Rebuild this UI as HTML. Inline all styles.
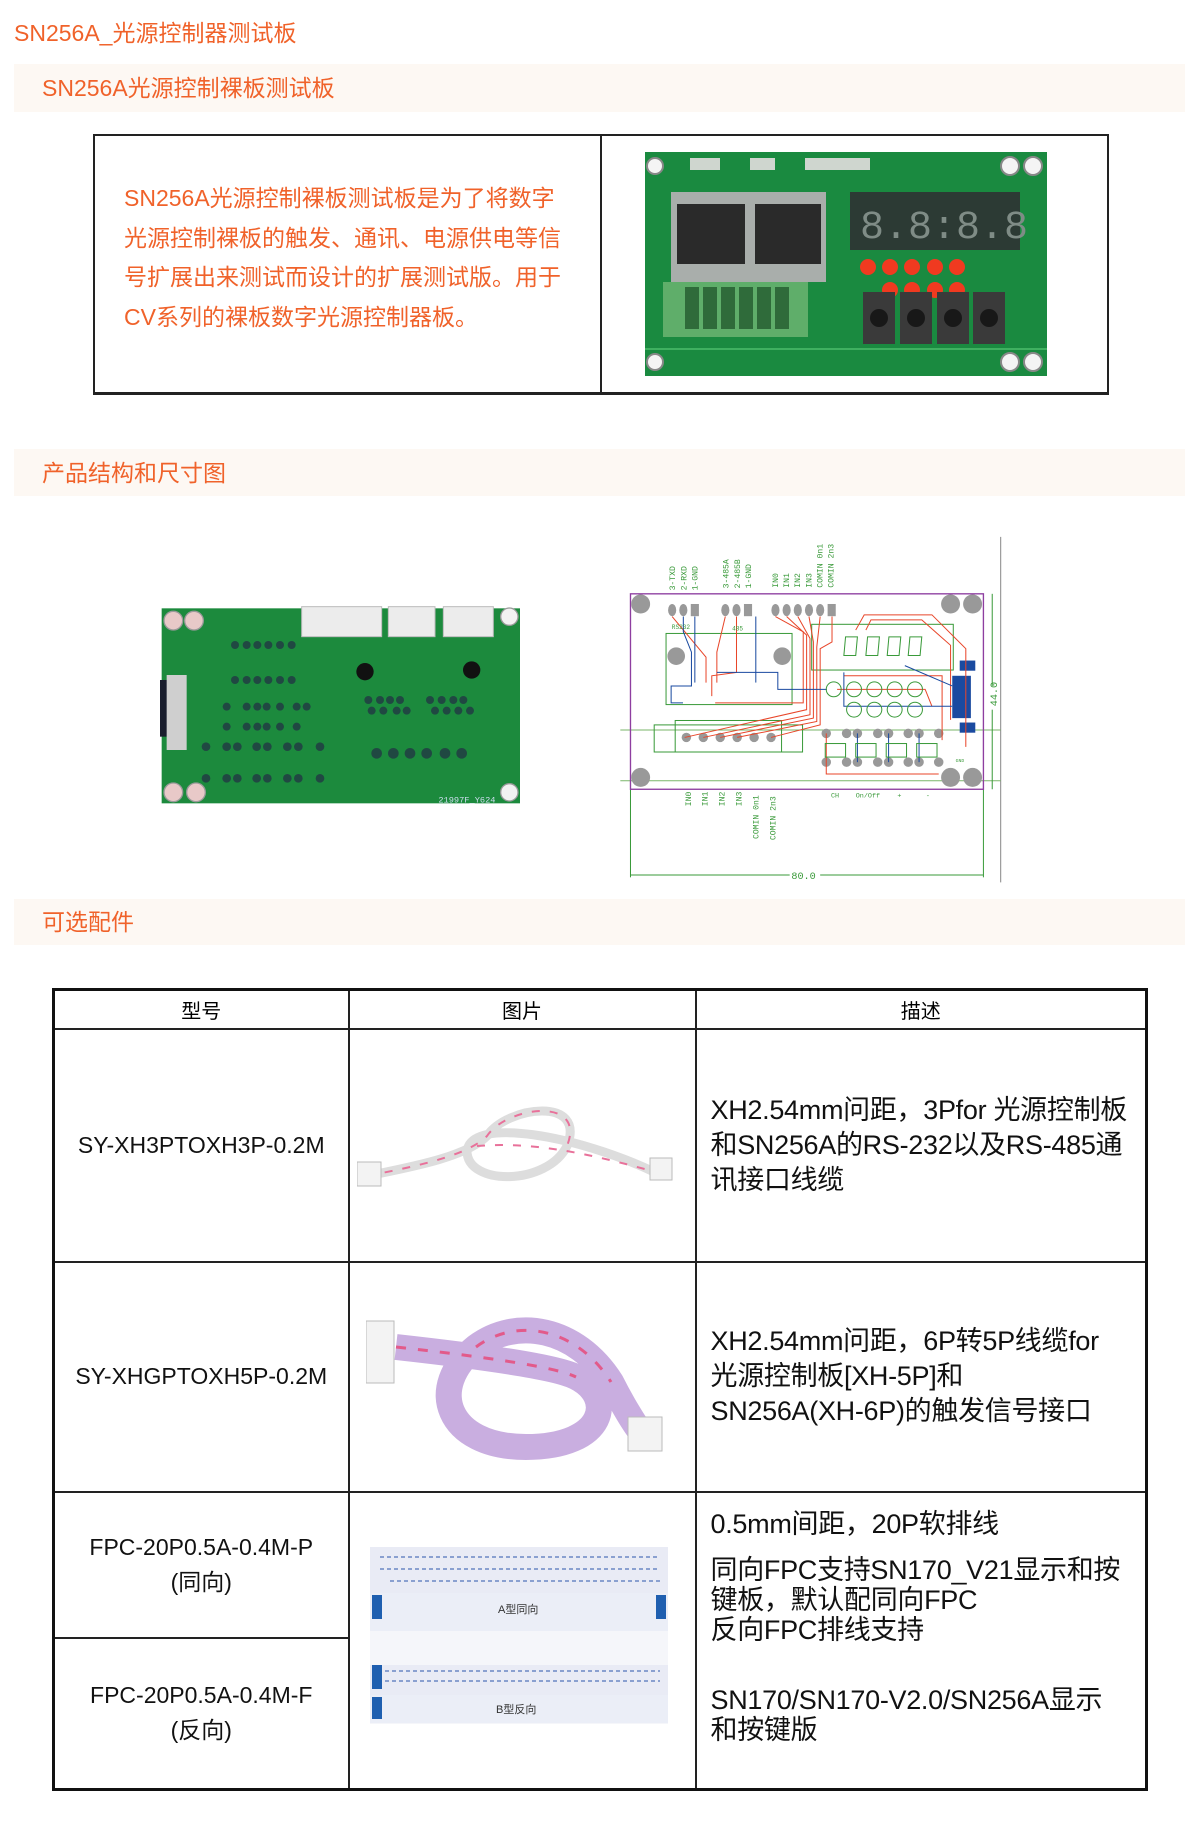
<!DOCTYPE html>
<html><head><meta charset="utf-8">
<style>
*{margin:0;padding:0;box-sizing:border-box}
body{width:1200px;height:1838px;background:#fff;position:relative;font-family:"Liberation Sans","Noto Sans CJK SC",sans-serif;overflow:hidden}
.a{position:absolute}
.or{color:#f0622a}
.band{position:absolute;left:14px;width:1171px;background:#fdf8f3}
.band span{position:absolute;left:28px;font-size:23px;color:#f0622a;line-height:1}
.para{left:124px;font-size:23px;color:#f0622a;line-height:39.5px;white-space:nowrap}
table{position:absolute;left:52px;top:988px;width:1096px;border-collapse:collapse;border:3px solid #111}
td{border:2px solid #222;vertical-align:middle}
.c1{text-align:center;font-size:23px;color:#111;line-height:35px;white-space:nowrap}
.d{font-size:27px;color:#111;line-height:35px;padding-left:14px;white-space:nowrap;letter-spacing:-0.3px}
</style></head><body>
<div class="a or" style="left:14px;top:19px;font-size:23px;line-height:28px">SN256A_光源控制器测试板</div>
<div class="band" style="top:64px;height:48px"><span style="top:13px">SN256A光源控制裸板测试板</span></div>

<div class="a" style="left:93px;top:134px;width:1016px;height:261px;border:2px solid #222;border-bottom-width:3px"></div>
<div class="a" style="left:600px;top:134px;width:2px;height:261px;background:#222"></div>
<div class="a para" style="top:179px">SN256A光源控制裸板测试板是为了将数字<br>光源控制裸板的触发、通讯、电源供电等信<br>号扩展出来测试而设计的扩展测试版。用于<br>CV系列的裸板数字光源控制器板。</div>

<!-- board 1 -->
<svg class="a" style="left:645px;top:152px" width="402" height="224" viewBox="0 0 402 224">
<rect x="0" y="0" width="402" height="224" fill="#1a8a40"/>
<g fill="#f4f4f4" stroke="#888" stroke-width="2"><circle cx="10" cy="14" r="8"/><circle cx="365" cy="14" r="9"/><circle cx="388" cy="14" r="9"/><circle cx="10" cy="210" r="8"/><circle cx="365" cy="210" r="9"/><circle cx="388" cy="210" r="9"/></g>
<g fill="#cfd6cf"><rect x="45" y="6" width="30" height="12"/><rect x="105" y="6" width="25" height="12"/><rect x="160" y="6" width="65" height="12"/></g>
<rect x="26" y="40" width="155" height="90" fill="#a9aeab"/>
<rect x="32" y="52" width="68" height="60" fill="#2a2a2a"/><rect x="110" y="52" width="66" height="60" fill="#2a2a2a"/>
<rect x="205" y="40" width="170" height="58" fill="#2c3a34"/>
<text x="215" y="86" font-family="Liberation Mono,monospace" font-size="40" fill="#7f8c86">8.8:8.8</text>
<g fill="#f03a20"><circle cx="223" cy="115" r="8"/><circle cx="245" cy="115" r="8"/><circle cx="267" cy="115" r="8"/><circle cx="290" cy="115" r="8"/><circle cx="245" cy="138" r="8"/><circle cx="267" cy="138" r="8"/><circle cx="290" cy="138" r="8"/><circle cx="312" cy="138" r="8"/><circle cx="312" cy="115" r="8"/></g>
<rect x="18" y="130" width="145" height="55" fill="#5fae6a"/>
<g fill="#2f6b3a"><rect x="40" y="135" width="14" height="42"/><rect x="58" y="135" width="14" height="42"/><rect x="76" y="135" width="14" height="42"/><rect x="94" y="135" width="14" height="42"/><rect x="112" y="135" width="14" height="42"/><rect x="130" y="135" width="14" height="42"/></g>
<g fill="#3a3a3a"><rect x="218" y="140" width="32" height="52"/><rect x="255" y="140" width="32" height="52"/><rect x="292" y="140" width="32" height="52"/><rect x="328" y="140" width="32" height="52"/></g>
<g fill="#181818"><circle cx="234" cy="166" r="9"/><circle cx="271" cy="166" r="9"/><circle cx="308" cy="166" r="9"/><circle cx="344" cy="166" r="9"/></g>
<line x1="0" y1="197" x2="402" y2="197" stroke="#3fb060" stroke-width="2"/>
</svg>

<div class="band" style="top:449px;height:47px"><span style="top:13px">产品结构和尺寸图</span></div>

<!-- board 2 -->
<svg class="a" style="left:150px;top:590px" width="380" height="230" viewBox="0 0 1140 690">
<rect x="35" y="55" width="1075" height="585" fill="#1c8a3d"/>
<g fill="#e8c9c8" stroke="#999" stroke-width="4"><circle cx="70" cy="92" r="28"/><circle cx="132" cy="92" r="28"/><circle cx="70" cy="607" r="28"/><circle cx="138" cy="607" r="28"/></g>
<g fill="#f2f2f2" stroke="#999" stroke-width="4"><circle cx="1078" cy="80" r="26"/><circle cx="1078" cy="607" r="26"/></g>
<g fill="#ececec" stroke="#bbb" stroke-width="3"><rect x="455" y="50" width="240" height="90"/><rect x="715" y="50" width="140" height="90"/><rect x="880" y="50" width="150" height="90"/></g>
<rect x="30" y="270" width="30" height="170" fill="#1a1e2e"/>
<rect x="50" y="255" width="60" height="225" fill="#cfcfcf"/>
<g fill="#111"><circle cx="645" cy="245" r="26"/><circle cx="965" cy="240" r="26"/></g>
<g fill="#234" opacity=".75">
<circle cx="255" cy="165" r="12"/><circle cx="290" cy="165" r="12"/><circle cx="322" cy="165" r="12"/><circle cx="355" cy="165" r="12"/><circle cx="390" cy="165" r="12"/><circle cx="425" cy="165" r="12"/>
<circle cx="255" cy="270" r="12"/><circle cx="290" cy="270" r="12"/><circle cx="322" cy="270" r="12"/><circle cx="355" cy="270" r="12"/><circle cx="390" cy="270" r="12"/><circle cx="425" cy="270" r="12"/>
<circle cx="230" cy="350" r="12"/><circle cx="290" cy="350" r="12"/><circle cx="322" cy="350" r="12"/><circle cx="350" cy="350" r="12"/><circle cx="390" cy="350" r="12"/><circle cx="440" cy="350" r="12"/><circle cx="470" cy="350" r="12"/>
<circle cx="230" cy="410" r="12"/><circle cx="290" cy="410" r="12"/><circle cx="322" cy="410" r="12"/><circle cx="350" cy="410" r="12"/><circle cx="390" cy="410" r="12"/><circle cx="440" cy="410" r="12"/>
<circle cx="655" cy="330" r="12"/><circle cx="690" cy="330" r="12"/><circle cx="720" cy="330" r="12"/><circle cx="750" cy="330" r="12"/><circle cx="840" cy="330" r="12"/><circle cx="875" cy="330" r="12"/><circle cx="910" cy="330" r="12"/><circle cx="940" cy="330" r="12"/>
<circle cx="665" cy="362" r="12"/><circle cx="700" cy="362" r="12"/><circle cx="740" cy="362" r="12"/><circle cx="770" cy="362" r="12"/><circle cx="855" cy="362" r="12"/><circle cx="890" cy="362" r="12"/><circle cx="925" cy="362" r="12"/><circle cx="960" cy="362" r="12"/>
<circle cx="168" cy="470" r="13"/><circle cx="230" cy="470" r="13"/><circle cx="262" cy="470" r="13"/><circle cx="320" cy="470" r="13"/><circle cx="352" cy="470" r="13"/><circle cx="412" cy="470" r="13"/><circle cx="445" cy="470" r="13"/><circle cx="510" cy="470" r="13"/>
<circle cx="168" cy="565" r="13"/><circle cx="230" cy="565" r="13"/><circle cx="262" cy="565" r="13"/><circle cx="320" cy="565" r="13"/><circle cx="352" cy="565" r="13"/><circle cx="412" cy="565" r="13"/><circle cx="445" cy="565" r="13"/><circle cx="510" cy="565" r="13"/>
<circle cx="680" cy="490" r="16"/><circle cx="730" cy="490" r="16"/><circle cx="780" cy="490" r="16"/><circle cx="830" cy="490" r="16"/><circle cx="885" cy="490" r="16"/><circle cx="935" cy="490" r="16"/>
</g>
<text x="865" y="638" font-family="Liberation Mono,monospace" font-size="26" fill="#cde">21997F_Y624</text>
</svg>

<!-- CAD -->
<svg class="a" style="left:600px;top:530px" width="420" height="360" viewBox="0 0 1240 1062" font-family="Liberation Mono,monospace">
<line x1="1183" y1="20" x2="1183" y2="1040" stroke="#888" stroke-width="3"/>
<line x1="60" y1="590" x2="1183" y2="590" stroke="#7ab56a" stroke-width="3"/>
<line x1="60" y1="740" x2="1183" y2="740" stroke="#7ab56a" stroke-width="3"/>
<g stroke="#3a9a3a" stroke-width="3" fill="none">
<line x1="90" y1="765" x2="90" y2="1025"/><line x1="1132" y1="765" x2="1132" y2="1025"/>
<line x1="90" y1="1018" x2="560" y2="1018"/><line x1="650" y1="1018" x2="1132" y2="1018"/>
<line x1="1158" y1="188" x2="1158" y2="460"/><line x1="1158" y1="530" x2="1158" y2="765"/>
<rect x="195" y="305" width="372" height="210"/><rect x="625" y="278" width="418" height="135"/>
<rect x="160" y="575" width="438" height="80"/><rect x="222" y="562" width="314" height="93"/>
</g>
<text x="565" y="1030" font-size="30" fill="#3a9a3a">80.0</text>
<rect x="90" y="188" width="1042" height="577" fill="none" stroke="#8e3ea0" stroke-width="4"/>
<g fill="#999"><circle cx="120" cy="218" r="28"/><circle cx="1035" cy="218" r="28"/><circle cx="1100" cy="218" r="28"/><circle cx="120" cy="730" r="28"/><circle cx="1035" cy="730" r="28"/><circle cx="1100" cy="730" r="28"/><circle cx="225" cy="372" r="26"/><circle cx="538" cy="372" r="26"/>
<ellipse cx="213" cy="236" rx="12" ry="18"/><ellipse cx="246" cy="236" rx="12" ry="18"/><rect x="268" y="218" width="24" height="36"/>
<ellipse cx="370" cy="236" rx="12" ry="18"/><ellipse cx="403" cy="236" rx="12" ry="18"/><rect x="425" y="218" width="24" height="36"/>
<ellipse cx="518" cy="236" rx="12" ry="18"/><ellipse cx="551" cy="236" rx="12" ry="18"/><ellipse cx="584" cy="236" rx="12" ry="18"/><ellipse cx="617" cy="236" rx="12" ry="18"/><ellipse cx="650" cy="236" rx="12" ry="18"/><rect x="672" y="218" width="24" height="36"/>
<circle cx="255" cy="612" r="14"/><circle cx="305" cy="612" r="14"/><circle cx="355" cy="612" r="14"/><circle cx="405" cy="612" r="14"/><circle cx="455" cy="612" r="14"/><circle cx="505" cy="612" r="14"/>
<circle cx="668" cy="600" r="14"/><circle cx="728" cy="600" r="14"/><circle cx="760" cy="600" r="14"/><circle cx="820" cy="600" r="14"/><circle cx="852" cy="600" r="14"/><circle cx="910" cy="600" r="14"/><circle cx="942" cy="600" r="14"/><circle cx="1000" cy="600" r="14"/>
<circle cx="668" cy="685" r="14"/><circle cx="728" cy="685" r="14"/><circle cx="760" cy="685" r="14"/><circle cx="820" cy="685" r="14"/><circle cx="852" cy="685" r="14"/><circle cx="910" cy="685" r="14"/><circle cx="942" cy="685" r="14"/><circle cx="1000" cy="685" r="14"/>
</g>
<g fill="#1a4aa0"><rect x="1062" y="385" width="46" height="30"/><rect x="1062" y="568" width="46" height="30"/><rect x="1040" y="430" width="55" height="125"/></g>
<g stroke="#e8462a" stroke-width="3" fill="none">
<path d="M213 255 L313 375 L313 450"/><path d="M370 255 L345 360 L345 450"/><path d="M403 255 L403 420 L330 430 L330 490"/>
<path d="M518 255 L600 300 L600 510 L340 510"/><path d="M551 255 L610 310 L610 530 L250 612"/><path d="M584 255 L620 320 L620 545 L305 612"/><path d="M617 255 L630 330 L630 555 L355 612"/>
<path d="M650 255 L640 345 L640 565 L405 612"/><path d="M685 255 L685 330 L650 350 L650 575 L505 612"/>
<path d="M755 295 L780 250 L980 250 L1080 350 L1080 640"/><path d="M785 295 L800 265 L950 265 L1035 340 L1035 560"/>
<path d="M668 600 L668 720 L1000 720"/><path d="M720 430 L1010 430 L1010 620"/><path d="M700 470 L960 470 L980 520"/>
</g>
<g stroke="#1a4aa0" stroke-width="3" fill="none">
<path d="M246 255 L246 300 L270 360 L270 460 L210 460 L210 510 L245 510"/><path d="M280 255 L280 450"/><path d="M460 255 L460 450"/>
<path d="M345 420 L525 420 L525 470 L670 470"/><path d="M720 420 L720 520 L1040 520"/><path d="M900 400 L1040 460"/><path d="M760 600 L760 685"/><path d="M852 600 L852 685"/><path d="M942 600 L942 685"/>
</g>
<g stroke="#3a9a3a" stroke-width="3" fill="none">
<circle cx="690" cy="470" r="22"/><circle cx="750" cy="470" r="22"/><circle cx="810" cy="470" r="22"/><circle cx="870" cy="470" r="22"/><circle cx="930" cy="470" r="22"/>
<circle cx="750" cy="530" r="22"/><circle cx="810" cy="530" r="22"/><circle cx="870" cy="530" r="22"/><circle cx="930" cy="530" r="22"/>
<path d="M720 370 L725 315 L760 315 L755 370 Z M785 370 L790 315 L825 315 L820 370 Z M848 370 L853 315 L888 315 L883 370 Z M910 370 L915 315 L950 315 L945 370 Z"/>
<rect x="665" y="630" width="60" height="40"/><rect x="755" y="630" width="60" height="40"/><rect x="845" y="630" width="60" height="40"/><rect x="935" y="630" width="60" height="40"/>
</g>
<g fill="#3a9a3a" font-size="24">
<text transform="translate(222 178) rotate(-90)">3-TXD</text><text transform="translate(255 178) rotate(-90)">2-RXD</text><text transform="translate(288 178) rotate(-90)">1-GND</text>
<text transform="translate(380 172) rotate(-90)">3-485A</text><text transform="translate(413 172) rotate(-90)">2-485B</text><text transform="translate(446 172) rotate(-90)">1-GND</text>
<text transform="translate(525 170) rotate(-90)">IN0</text><text transform="translate(558 170) rotate(-90)">IN1</text><text transform="translate(591 170) rotate(-90)">IN2</text><text transform="translate(624 170) rotate(-90)">IN3</text><text transform="translate(657 170) rotate(-90)">COMIN 0n1</text><text transform="translate(690 170) rotate(-90)">COMIN 2n3</text>
<text transform="translate(268 815) rotate(-90)">IN0</text><text transform="translate(318 815) rotate(-90)">IN1</text><text transform="translate(368 815) rotate(-90)">IN2</text><text transform="translate(418 815) rotate(-90)">IN3</text><text transform="translate(468 912) rotate(-90)">COMIN 0n1</text><text transform="translate(518 915) rotate(-90)">COMIN 2n3</text>
<text x="682" y="790" font-size="20">CH</text><text x="755" y="790" font-size="20">On/Off</text><text x="878" y="790" font-size="20">+</text><text x="962" y="790" font-size="20">-</text>
<text x="212" y="292" font-size="18">RS232</text><text x="390" y="296" font-size="18">485</text><text x="1050" y="685" font-size="14">GND</text>
<text transform="translate(1172 520) rotate(-90)" font-size="30">44.0</text>
</g>
</svg>

<div class="band" style="top:899px;height:46px"><span style="top:12px">可选配件</span></div>

<table>
<tr style="height:39px"><td style="width:295px;text-align:center;font-size:20px">型号</td><td style="width:347px;text-align:center;font-size:20px">图片</td><td style="text-align:center;font-size:20px">描述</td></tr>
<tr style="height:233px"><td class="c1">SY-XH3PTOXH3P-0.2M</td><td></td><td class="d">XH2.54mm问距，3Pfor 光源控制板<br>和SN256A的RS-232以及RS-485通<br>讯接口线缆</td></tr>
<tr style="height:230px"><td class="c1">SY-XHGPTOXH5P-0.2M</td><td></td><td class="d">XH2.54mm问距，6P转5P线缆for<br>光源控制板[XH-5P]和<br>SN256A(XH-6P)的触发信号接口</td></tr>
<tr style="height:146px"><td class="c1">FPC-20P0.5A-0.4M-P<br>(同向)</td><td rowspan="2"></td><td rowspan="2" class="d" style="vertical-align:top;padding-top:16px;line-height:30px">0.5mm间距，20P软排线<br><div style="height:16px"></div>同向FPC支持SN170_V21显示和按<br>键板，默认配同向FPC<br>反向FPC排线支持<br><div style="height:40px"></div>SN170/SN170-V2.0/SN256A显示<br>和按键版</td></tr>
<tr style="height:152px"><td class="c1">FPC-20P0.5A-0.4M-F<br>(反向)</td></tr>
</table>

<!-- cable 1 -->
<svg class="a" style="left:357px;top:1096px" width="326" height="92" viewBox="0 0 326 92">
<g fill="none" stroke="#ddd" stroke-width="9"><path d="M10 80 C60 70 110 60 130 40 C150 10 230 0 210 50 C190 90 110 90 110 55 C115 20 220 40 295 75"/></g>
<g fill="none" stroke="#e8719a" stroke-width="2" stroke-dasharray="8 10"><path d="M10 80 C60 70 110 60 130 40 C150 10 230 0 210 50"/><path d="M120 50 C180 45 240 60 295 75"/></g>
<rect x="0" y="66" width="24" height="24" fill="#f3f3f3" stroke="#bbb"/><rect x="293" y="62" width="22" height="22" fill="#f3f3f3" stroke="#bbb"/>
</svg>
<!-- cable 2 -->
<svg class="a" style="left:366px;top:1307px" width="316" height="153" viewBox="0 0 316 153">
<g fill="none" stroke="#c9aee0" stroke-width="26"><path d="M30 40 C120 50 190 60 210 70 C250 90 240 140 160 140 C80 140 60 80 110 40 C150 10 210 20 245 75 C255 95 270 120 275 125"/></g>
<g fill="none" stroke="#e25a8a" stroke-width="3" stroke-dasharray="10 12"><path d="M30 40 C120 50 190 60 210 70"/><path d="M110 40 C150 10 210 20 245 75"/></g>
<rect x="0" y="14" width="28" height="62" fill="#f3f3f3" stroke="#bbb"/><rect x="262" y="110" width="34" height="34" fill="#f3f3f3" stroke="#bbb"/>
</svg>
<!-- FPC -->
<svg class="a" style="left:370px;top:1547px" width="298" height="177" viewBox="0 0 298 177">
<rect x="0" y="0" width="298" height="177" fill="#f5f6fa"/>
<rect x="0" y="0" width="298" height="46" fill="#e9ebf5"/><rect x="0" y="46" width="298" height="38" fill="#ebeef7"/>
<rect x="2" y="48" width="10" height="24" fill="#1f5fb0"/><rect x="286" y="48" width="10" height="24" fill="#1f5fb0"/>
<rect x="0" y="118" width="298" height="30" fill="#e9ebf5"/><rect x="0" y="148" width="298" height="28" fill="#ebeef7"/>
<rect x="2" y="118" width="10" height="24" fill="#1f5fb0"/><rect x="2" y="150" width="10" height="22" fill="#1f5fb0"/>
<g stroke="#8aa0d0" stroke-width="2" stroke-dasharray="4 3"><line x1="10" y1="10" x2="290" y2="10"/><line x1="10" y1="22" x2="290" y2="22"/><line x1="20" y1="34" x2="290" y2="34"/><line x1="15" y1="124" x2="290" y2="124"/><line x1="15" y1="134" x2="290" y2="134"/></g>
<text x="128" y="66" font-size="11" fill="#333" font-family="Liberation Sans,Noto Sans CJK SC,sans-serif">A型同向</text>
<text x="126" y="166" font-size="11" fill="#333" font-family="Liberation Sans,Noto Sans CJK SC,sans-serif">B型反向</text>
</svg>
</body></html>
